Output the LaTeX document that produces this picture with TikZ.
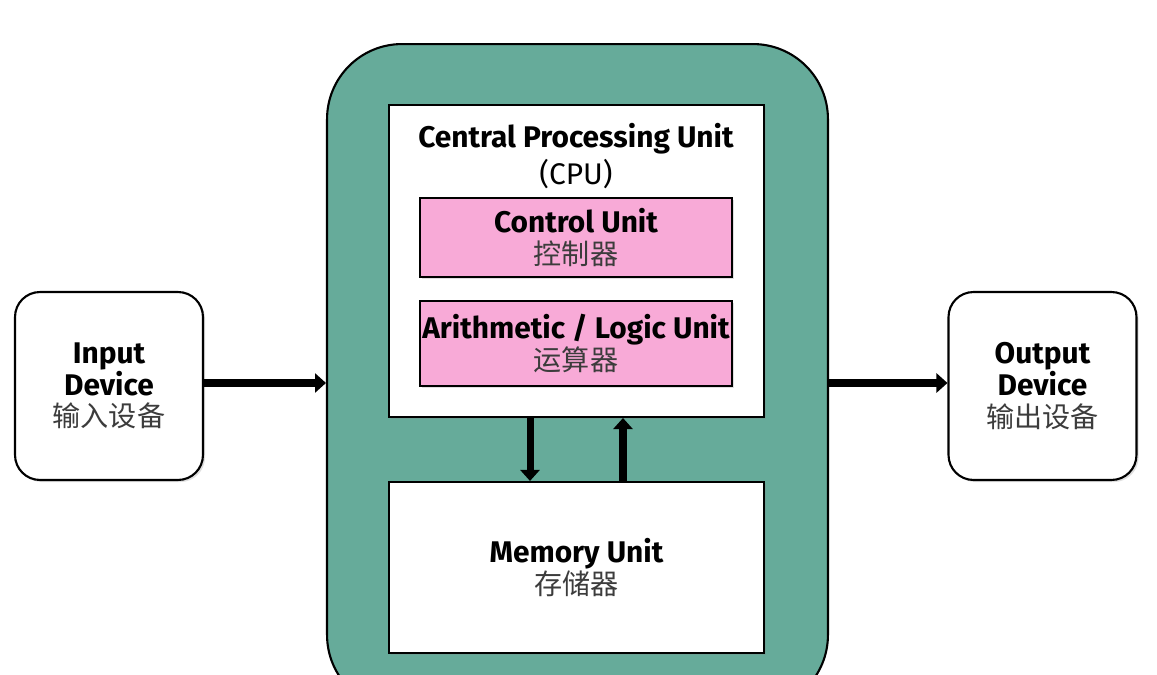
\documentclass[tikz,border=0pt]{standalone}
\usepackage{fontspec}
\setmainfont{Fira Sans}
\newfontfamily\cjk{Noto Sans CJK SC}
\usetikzlibrary{arrows.meta,shadows}
\definecolor{shellgreen}{RGB}{102,171,154}
\definecolor{unitpink}{RGB}{248,170,215}
\definecolor{cjkgray}{RGB}{60,60,60}
\newcommand{\zh}[1]{{\cjk\normalfont\cjk\fontsize{16}{19}\selectfont\color{cjkgray}#1}}

\begin{document}
\begin{tikzpicture}[x=0.02cm,y=-0.02cm,line width=1.2pt,
  font=\bfseries\fontsize{17}{18}\selectfont,
  shade/.style={drop shadow={opacity=0.25,shadow xshift=1.2pt,shadow yshift=-1.2pt}},
  unitbox/.style={draw,fill=unitpink,shade,minimum width=6.24cm,align=center,inner sep=0pt},
  plainbox/.style={draw,fill=white,shade,minimum width=7.5cm,align=center,inner sep=0pt},
  devbox/.style={draw,fill=white,shade,rounded corners=0.5cm,minimum width=3.76cm,minimum height=3.76cm,align=center,inner sep=0pt},
  flow/.style={line width=4pt,-{Triangle[length=0.22cm,width=0.38cm]}}]
\clip (0,0) rectangle (1157,675);
\fill[white] (0,0) rectangle (1157,675);
% outer shell
\node[draw,fill=shellgreen,rounded corners=1.5cm,minimum width=10.02cm,minimum height=13.32cm] (shell) at (577.5,377) {};
% processor and memory
\node[plainbox,minimum height=6.24cm] (cpu) at (576.5,261) {};
\node[align=center] (cputitle) at (576,156) {Central Processing Unit\\[2pt]\mdseries(CPU)};
\node[unitbox,minimum height=1.58cm] (cu) at (576,237.5) {Control Unit\\\zh{控制器}};
\node[unitbox,minimum height=1.7cm] (alu) at (576,343.5) {Arithmetic / Logic Unit\\\zh{运算器}};
\node[plainbox,minimum height=3.42cm] (mem) at (576.5,567.5) {Memory Unit\\\zh{存储器}};
% devices
\node[devbox] (in) at (109,386) {Input\\Device\\\zh{输入设备}};
\node[devbox] (out) at (1042.5,386) {Output\\Device\\\zh{输出设备}};
% data paths
\draw[flow] ([yshift=0.06cm]in.east) -- ([yshift=0.06cm]in.east -| shell.west);
\draw[flow] ([yshift=0.06cm]out.west -| shell.east) -- ([yshift=0.06cm]out.west);
\draw[flow] ([xshift=-0.93cm]cpu.south) -- ([xshift=-0.93cm]mem.north);
\draw[flow] ([xshift=0.93cm]mem.north) -- ([xshift=0.93cm]cpu.south);
\end{tikzpicture}
\end{document}
